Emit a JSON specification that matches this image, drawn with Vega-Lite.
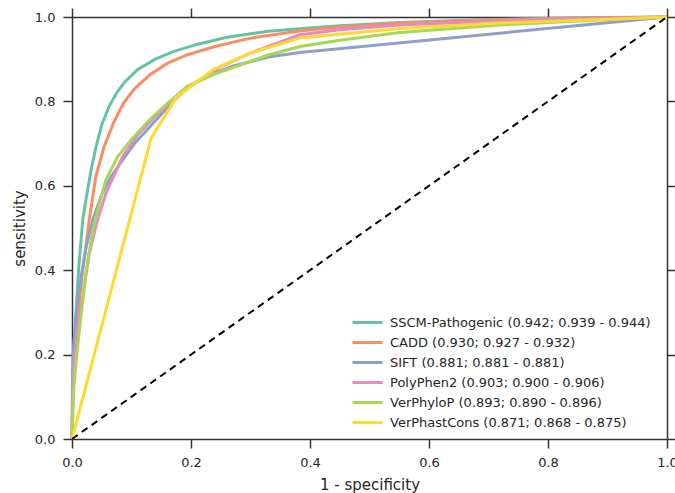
{
  "$schema": "https://vega.github.io/schema/vega-lite/v6.json",
  "width": 595,
  "height": 422,
  "autosize": {"type": "none"},
  "padding": {"left": 72, "top": 17, "right": 8, "bottom": 54},
  "background": "white",
  "config": {
    "font": "DejaVu Sans",
    "view": {"stroke": null},
    "axis": {
      "grid": false,
      "domainColor": "#333333",
      "domainWidth": 1.5,
      "tickColor": "#333333",
      "tickWidth": 1.5,
      "tickSize": 9,
      "labelFlush": false,
      "labelFont": "DejaVu Sans",
      "labelFontSize": 13,
      "labelColor": "#262626",
      "titleFont": "DejaVu Sans",
      "titleFontSize": 15,
      "titleFontWeight": "normal",
      "titleColor": "#262626"
    },
    "legend": {
      "labelFont": "DejaVu Sans",
      "labelFontSize": 13,
      "labelColor": "#262626",
      "labelLimit": 0
    }
  },
  "datasets": {
    "diag": [{"fpr": 0, "tpr": 0}, {"fpr": 1, "tpr": 1}],
    "roc": [
      {"model": "SSCM-Pathogenic (0.942; 0.939 - 0.944)", "fpr": 0, "tpr": 0},
      {"model": "SSCM-Pathogenic (0.942; 0.939 - 0.944)", "fpr": 0.001, "tpr": 0.15},
      {"model": "SSCM-Pathogenic (0.942; 0.939 - 0.944)", "fpr": 0.003, "tpr": 0.22},
      {"model": "SSCM-Pathogenic (0.942; 0.939 - 0.944)", "fpr": 0.006, "tpr": 0.282},
      {"model": "SSCM-Pathogenic (0.942; 0.939 - 0.944)", "fpr": 0.011, "tpr": 0.4},
      {"model": "SSCM-Pathogenic (0.942; 0.939 - 0.944)", "fpr": 0.018, "tpr": 0.519},
      {"model": "SSCM-Pathogenic (0.942; 0.939 - 0.944)", "fpr": 0.025, "tpr": 0.58},
      {"model": "SSCM-Pathogenic (0.942; 0.939 - 0.944)", "fpr": 0.032, "tpr": 0.637},
      {"model": "SSCM-Pathogenic (0.942; 0.939 - 0.944)", "fpr": 0.04, "tpr": 0.69},
      {"model": "SSCM-Pathogenic (0.942; 0.939 - 0.944)", "fpr": 0.05, "tpr": 0.745},
      {"model": "SSCM-Pathogenic (0.942; 0.939 - 0.944)", "fpr": 0.062, "tpr": 0.787},
      {"model": "SSCM-Pathogenic (0.942; 0.939 - 0.944)", "fpr": 0.075, "tpr": 0.82},
      {"model": "SSCM-Pathogenic (0.942; 0.939 - 0.944)", "fpr": 0.088, "tpr": 0.845},
      {"model": "SSCM-Pathogenic (0.942; 0.939 - 0.944)", "fpr": 0.11, "tpr": 0.875},
      {"model": "SSCM-Pathogenic (0.942; 0.939 - 0.944)", "fpr": 0.14, "tpr": 0.9},
      {"model": "SSCM-Pathogenic (0.942; 0.939 - 0.944)", "fpr": 0.17, "tpr": 0.918},
      {"model": "SSCM-Pathogenic (0.942; 0.939 - 0.944)", "fpr": 0.21, "tpr": 0.935},
      {"model": "SSCM-Pathogenic (0.942; 0.939 - 0.944)", "fpr": 0.26, "tpr": 0.952},
      {"model": "SSCM-Pathogenic (0.942; 0.939 - 0.944)", "fpr": 0.33, "tpr": 0.966},
      {"model": "SSCM-Pathogenic (0.942; 0.939 - 0.944)", "fpr": 0.383, "tpr": 0.972},
      {"model": "SSCM-Pathogenic (0.942; 0.939 - 0.944)", "fpr": 0.45, "tpr": 0.979},
      {"model": "SSCM-Pathogenic (0.942; 0.939 - 0.944)", "fpr": 0.551, "tpr": 0.987},
      {"model": "SSCM-Pathogenic (0.942; 0.939 - 0.944)", "fpr": 0.7, "tpr": 0.994},
      {"model": "SSCM-Pathogenic (0.942; 0.939 - 0.944)", "fpr": 0.85, "tpr": 0.998},
      {"model": "SSCM-Pathogenic (0.942; 0.939 - 0.944)", "fpr": 1, "tpr": 1},

      {"model": "CADD (0.930; 0.927 - 0.932)", "fpr": 0, "tpr": 0},
      {"model": "CADD (0.930; 0.927 - 0.932)", "fpr": 0.002, "tpr": 0.15},
      {"model": "CADD (0.930; 0.927 - 0.932)", "fpr": 0.005, "tpr": 0.23},
      {"model": "CADD (0.930; 0.927 - 0.932)", "fpr": 0.01, "tpr": 0.299},
      {"model": "CADD (0.930; 0.927 - 0.932)", "fpr": 0.018, "tpr": 0.4},
      {"model": "CADD (0.930; 0.927 - 0.932)", "fpr": 0.029, "tpr": 0.519},
      {"model": "CADD (0.930; 0.927 - 0.932)", "fpr": 0.04, "tpr": 0.622},
      {"model": "CADD (0.930; 0.927 - 0.932)", "fpr": 0.054, "tpr": 0.693},
      {"model": "CADD (0.930; 0.927 - 0.932)", "fpr": 0.07, "tpr": 0.75},
      {"model": "CADD (0.930; 0.927 - 0.932)", "fpr": 0.086, "tpr": 0.795},
      {"model": "CADD (0.930; 0.927 - 0.932)", "fpr": 0.105, "tpr": 0.83},
      {"model": "CADD (0.930; 0.927 - 0.932)", "fpr": 0.131, "tpr": 0.863},
      {"model": "CADD (0.930; 0.927 - 0.932)", "fpr": 0.16, "tpr": 0.89},
      {"model": "CADD (0.930; 0.927 - 0.932)", "fpr": 0.193, "tpr": 0.91},
      {"model": "CADD (0.930; 0.927 - 0.932)", "fpr": 0.24, "tpr": 0.93},
      {"model": "CADD (0.930; 0.927 - 0.932)", "fpr": 0.3, "tpr": 0.95},
      {"model": "CADD (0.930; 0.927 - 0.932)", "fpr": 0.383, "tpr": 0.967},
      {"model": "CADD (0.930; 0.927 - 0.932)", "fpr": 0.45, "tpr": 0.976},
      {"model": "CADD (0.930; 0.927 - 0.932)", "fpr": 0.551, "tpr": 0.985},
      {"model": "CADD (0.930; 0.927 - 0.932)", "fpr": 0.7, "tpr": 0.993},
      {"model": "CADD (0.930; 0.927 - 0.932)", "fpr": 0.85, "tpr": 0.997},
      {"model": "CADD (0.930; 0.927 - 0.932)", "fpr": 1, "tpr": 1},

      {"model": "SIFT (0.881; 0.881 - 0.881)", "fpr": 0, "tpr": 0},
      {"model": "SIFT (0.881; 0.881 - 0.881)", "fpr": 0.002, "tpr": 0.2},
      {"model": "SIFT (0.881; 0.881 - 0.881)", "fpr": 0.008, "tpr": 0.31},
      {"model": "SIFT (0.881; 0.881 - 0.881)", "fpr": 0.016, "tpr": 0.39},
      {"model": "SIFT (0.881; 0.881 - 0.881)", "fpr": 0.024, "tpr": 0.456},
      {"model": "SIFT (0.881; 0.881 - 0.881)", "fpr": 0.035, "tpr": 0.52},
      {"model": "SIFT (0.881; 0.881 - 0.881)", "fpr": 0.05, "tpr": 0.58},
      {"model": "SIFT (0.881; 0.881 - 0.881)", "fpr": 0.065, "tpr": 0.62},
      {"model": "SIFT (0.881; 0.881 - 0.881)", "fpr": 0.081, "tpr": 0.653},
      {"model": "SIFT (0.881; 0.881 - 0.881)", "fpr": 0.105, "tpr": 0.7},
      {"model": "SIFT (0.881; 0.881 - 0.881)", "fpr": 0.131, "tpr": 0.74},
      {"model": "SIFT (0.881; 0.881 - 0.881)", "fpr": 0.16, "tpr": 0.785},
      {"model": "SIFT (0.881; 0.881 - 0.881)", "fpr": 0.193, "tpr": 0.832},
      {"model": "SIFT (0.881; 0.881 - 0.881)", "fpr": 0.23, "tpr": 0.862},
      {"model": "SIFT (0.881; 0.881 - 0.881)", "fpr": 0.271, "tpr": 0.884},
      {"model": "SIFT (0.881; 0.881 - 0.881)", "fpr": 0.33, "tpr": 0.905},
      {"model": "SIFT (0.881; 0.881 - 0.881)", "fpr": 0.383, "tpr": 0.916},
      {"model": "SIFT (0.881; 0.881 - 0.881)", "fpr": 1, "tpr": 1},

      {"model": "PolyPhen2 (0.903; 0.900 - 0.906)", "fpr": 0, "tpr": 0},
      {"model": "PolyPhen2 (0.903; 0.900 - 0.906)", "fpr": 0.002, "tpr": 0.15},
      {"model": "PolyPhen2 (0.903; 0.900 - 0.906)", "fpr": 0.008, "tpr": 0.25},
      {"model": "PolyPhen2 (0.903; 0.900 - 0.906)", "fpr": 0.018, "tpr": 0.337},
      {"model": "PolyPhen2 (0.903; 0.900 - 0.906)", "fpr": 0.029, "tpr": 0.44},
      {"model": "PolyPhen2 (0.903; 0.900 - 0.906)", "fpr": 0.043, "tpr": 0.519},
      {"model": "PolyPhen2 (0.903; 0.900 - 0.906)", "fpr": 0.057, "tpr": 0.582},
      {"model": "PolyPhen2 (0.903; 0.900 - 0.906)", "fpr": 0.085, "tpr": 0.669},
      {"model": "PolyPhen2 (0.903; 0.900 - 0.906)", "fpr": 0.11, "tpr": 0.72},
      {"model": "PolyPhen2 (0.903; 0.900 - 0.906)", "fpr": 0.14, "tpr": 0.765},
      {"model": "PolyPhen2 (0.903; 0.900 - 0.906)", "fpr": 0.176, "tpr": 0.81},
      {"model": "PolyPhen2 (0.903; 0.900 - 0.906)", "fpr": 0.21, "tpr": 0.847},
      {"model": "PolyPhen2 (0.903; 0.900 - 0.906)", "fpr": 0.25, "tpr": 0.882},
      {"model": "PolyPhen2 (0.903; 0.900 - 0.906)", "fpr": 0.3, "tpr": 0.915},
      {"model": "PolyPhen2 (0.903; 0.900 - 0.906)", "fpr": 0.383, "tpr": 0.958},
      {"model": "PolyPhen2 (0.903; 0.900 - 0.906)", "fpr": 0.45, "tpr": 0.97},
      {"model": "PolyPhen2 (0.903; 0.900 - 0.906)", "fpr": 0.551, "tpr": 0.981},
      {"model": "PolyPhen2 (0.903; 0.900 - 0.906)", "fpr": 0.72, "tpr": 0.991},
      {"model": "PolyPhen2 (0.903; 0.900 - 0.906)", "fpr": 0.85, "tpr": 0.996},
      {"model": "PolyPhen2 (0.903; 0.900 - 0.906)", "fpr": 1, "tpr": 1},

      {"model": "VerPhyloP (0.893; 0.890 - 0.896)", "fpr": 0, "tpr": 0},
      {"model": "VerPhyloP (0.893; 0.890 - 0.896)", "fpr": 0.003, "tpr": 0.12},
      {"model": "VerPhyloP (0.893; 0.890 - 0.896)", "fpr": 0.008, "tpr": 0.2},
      {"model": "VerPhyloP (0.893; 0.890 - 0.896)", "fpr": 0.015, "tpr": 0.29},
      {"model": "VerPhyloP (0.893; 0.890 - 0.896)", "fpr": 0.024, "tpr": 0.4},
      {"model": "VerPhyloP (0.893; 0.890 - 0.896)", "fpr": 0.035, "tpr": 0.495},
      {"model": "VerPhyloP (0.893; 0.890 - 0.896)", "fpr": 0.046, "tpr": 0.558},
      {"model": "VerPhyloP (0.893; 0.890 - 0.896)", "fpr": 0.057, "tpr": 0.614},
      {"model": "VerPhyloP (0.893; 0.890 - 0.896)", "fpr": 0.077, "tpr": 0.669},
      {"model": "VerPhyloP (0.893; 0.890 - 0.896)", "fpr": 0.1, "tpr": 0.71},
      {"model": "VerPhyloP (0.893; 0.890 - 0.896)", "fpr": 0.13, "tpr": 0.756},
      {"model": "VerPhyloP (0.893; 0.890 - 0.896)", "fpr": 0.16, "tpr": 0.795},
      {"model": "VerPhyloP (0.893; 0.890 - 0.896)", "fpr": 0.193, "tpr": 0.835},
      {"model": "VerPhyloP (0.893; 0.890 - 0.896)", "fpr": 0.24, "tpr": 0.865},
      {"model": "VerPhyloP (0.893; 0.890 - 0.896)", "fpr": 0.282, "tpr": 0.886},
      {"model": "VerPhyloP (0.893; 0.890 - 0.896)", "fpr": 0.33, "tpr": 0.91},
      {"model": "VerPhyloP (0.893; 0.890 - 0.896)", "fpr": 0.383, "tpr": 0.93},
      {"model": "VerPhyloP (0.893; 0.890 - 0.896)", "fpr": 0.45, "tpr": 0.945},
      {"model": "VerPhyloP (0.893; 0.890 - 0.896)", "fpr": 0.551, "tpr": 0.963},
      {"model": "VerPhyloP (0.893; 0.890 - 0.896)", "fpr": 0.719, "tpr": 0.981},
      {"model": "VerPhyloP (0.893; 0.890 - 0.896)", "fpr": 0.887, "tpr": 0.993},
      {"model": "VerPhyloP (0.893; 0.890 - 0.896)", "fpr": 1, "tpr": 1},

      {"model": "VerPhastCons (0.871; 0.868 - 0.875)", "fpr": 0, "tpr": 0},
      {"model": "VerPhastCons (0.871; 0.868 - 0.875)", "fpr": 0.133, "tpr": 0.713},
      {"model": "VerPhastCons (0.871; 0.868 - 0.875)", "fpr": 0.176, "tpr": 0.811},
      {"model": "VerPhastCons (0.871; 0.868 - 0.875)", "fpr": 0.238, "tpr": 0.876},
      {"model": "VerPhastCons (0.871; 0.868 - 0.875)", "fpr": 0.3, "tpr": 0.915},
      {"model": "VerPhastCons (0.871; 0.868 - 0.875)", "fpr": 0.383, "tpr": 0.95},
      {"model": "VerPhastCons (0.871; 0.868 - 0.875)", "fpr": 0.551, "tpr": 0.973},
      {"model": "VerPhastCons (0.871; 0.868 - 0.875)", "fpr": 0.72, "tpr": 0.986},
      {"model": "VerPhastCons (0.871; 0.868 - 0.875)", "fpr": 0.89, "tpr": 0.994},
      {"model": "VerPhastCons (0.871; 0.868 - 0.875)", "fpr": 1, "tpr": 1}
    ]
  },
  "layer": [
    {
      "data": {"name": "roc"},
      "mark": {"type": "line", "strokeWidth": 3, "clip": false},
      "encoding": {
        "x": {
          "field": "fpr", "type": "quantitative",
          "scale": {"domain": [0, 1], "nice": false, "zero": false},
          "axis": {"orient": "bottom", "title": "1 - specificity", "values": [0, 0.2, 0.4, 0.6, 0.8, 1], "format": ".1f", "labelPadding": 8, "titlePadding": 8}
        },
        "y": {
          "field": "tpr", "type": "quantitative",
          "scale": {"domain": [0, 1], "nice": false, "zero": false},
          "axis": {"orient": "left", "title": "sensitivity", "values": [0, 0.2, 0.4, 0.6, 0.8, 1], "format": ".1f", "labelPadding": 8, "titlePadding": 7}
        },
        "color": {
          "field": "model", "type": "nominal",
          "scale": {
            "domain": [
              "SSCM-Pathogenic (0.942; 0.939 - 0.944)",
              "CADD (0.930; 0.927 - 0.932)",
              "SIFT (0.881; 0.881 - 0.881)",
              "PolyPhen2 (0.903; 0.900 - 0.906)",
              "VerPhyloP (0.893; 0.890 - 0.896)",
              "VerPhastCons (0.871; 0.868 - 0.875)"
            ],
            "range": ["#66c2a5", "#fc8d62", "#8da0cb", "#e78ac3", "#a6d854", "#ffd92f"]
          },
          "legend": {
            "title": null,
            "orient": "none",
            "legendX": 289,
            "legendY": 299,
            "padding": 0,
            "symbolType": "M-3,0H3",
            "symbolSize": 100,
            "symbolStrokeWidth": 3,
            "labelOffset": 16,
            "rowPadding": 6
          }
        }
      }
    },
    {
      "data": {"name": "diag"},
      "mark": {"type": "line", "color": "black", "strokeWidth": 2, "strokeDash": [7, 5]},
      "encoding": {
        "x": {
          "field": "fpr", "type": "quantitative",
          "scale": {"domain": [0, 1], "nice": false, "zero": false},
          "axis": {"orient": "top", "title": null, "labels": false, "values": [0, 0.2, 0.4, 0.6, 0.8, 1]}
        },
        "y": {
          "field": "tpr", "type": "quantitative",
          "scale": {"domain": [0, 1], "nice": false, "zero": false},
          "axis": {"orient": "right", "title": null, "labels": false, "values": [0, 0.2, 0.4, 0.6, 0.8, 1]}
        }
      }
    }
  ],
  "resolve": {"axis": {"x": "independent", "y": "independent"}}
}
